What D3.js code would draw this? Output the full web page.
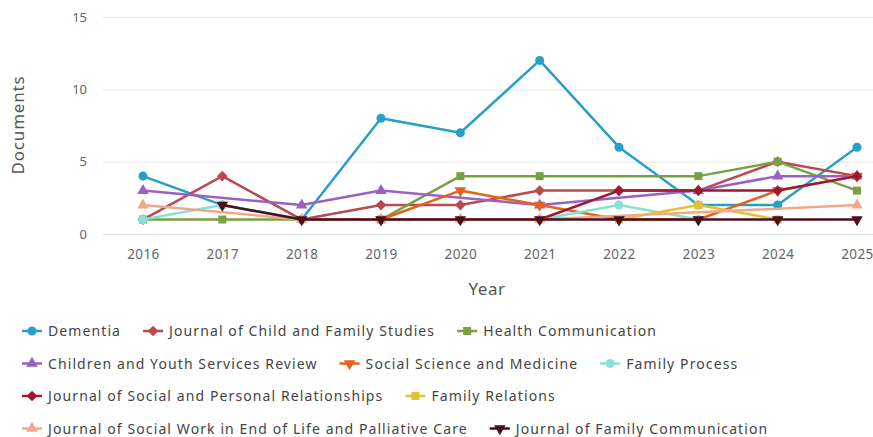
<!DOCTYPE html>
<html lang="en">
<head>
  <meta charset="UTF-8">
  <script src="https://d3js.org/d3.v7.min.js"></script>
  <style>
    body { margin: 0; background: #fff; }
    text { font-family: "Noto Sans", sans-serif; }
  </style>
  <title>Documents per year by source</title>
</head>
<body>
  <svg id="chart" width="873" height="437"></svg>
  <script>
    var years = [2016, 2017, 2018, 2019, 2020, 2021, 2022, 2023, 2024, 2025];
    var yTicks = [0, 5, 10, 15];

    var sources = ['Dementia', 'Journal of Child and Family Studies', 'Health Communication',
      'Children and Youth Services Review', 'Social Science and Medicine', 'Family Process',
      'Journal of Social and Personal Relationships', 'Family Relations',
      'Journal of Social Work in End of Life and Palliative Care', 'Journal of Family Communication'];

    // documents per year, null = no document that year
    var dementia = [4, 2, 1, 8, 7, 12, 6, 2, 2, 6];
    var childFamily = [1, 4, 1, 2, 2, 3, 3, 3, 5, 4];
    var healthComm = [1, 1, null, 1, 4, 4, null, 4, 5, 3];
    var childrenYouth = [3, null, 2, 3, null, 2, null, 3, 4, 4];
    var socialScience = [null, null, null, 1, 3, 2, 1, 1, 3, 4];
    var familyProcess = [1, 2, 1, null, null, 1, 2, 1, null, null];
    var socialPersonal = [null, null, 1, 1, 1, 1, 3, 3, 3, 4];
    var familyRelations = [null, null, null, null, null, null, 1, 2, 1, null];
    var endOfLife = [2, null, 1, 1, 1, 1, null, null, null, 2];
    var familyComm = [null, 2, 1, 1, 1, 1, 1, 1, 1, 1];

    var series = [dementia, childFamily, healthComm, childrenYouth, socialScience,
      familyProcess, socialPersonal, familyRelations, endOfLife, familyComm];
    var colors = ['#2a9fc6', '#b84a50', '#79a142', '#9c60c2', '#e2621f',
      '#86e2d3', '#a0182f', '#e5c22a', '#efa98a', '#4a0e1c'];
    var shapes = ['circle', 'diamond', 'square', 'triangle', 'triangle-down'];

    var svg = d3.select('#chart');
    var x = d3.scalePoint().domain(years).range([143, 857]);
    var y = d3.scaleLinear().domain([0, 15]).range([234, 17]);

    // grid + y labels
    var ga = svg.append('g').attr('transform', 'translate(103,0)')
      .call(d3.axisLeft(y).tickValues(yTicks).tickSize(-780).tickPadding(16));
    ga.select('.domain').remove();
    ga.selectAll('line').attr('stroke', '#e6e6e6');
    ga.selectAll('text').attr('fill', '#666').style('font-size', '13px');

    var gx = svg.append('g').attr('transform', 'translate(0,234)')
      .call(d3.axisBottom(x).tickSize(0).tickPadding(15));
    gx.select('.domain').remove();
    gx.selectAll('text').attr('fill', '#666').style('font-size', '13.5px')
      .style('letter-spacing', '0.4px');
    svg.append('line').attr('x1', 103).attr('x2', 873)
      .attr('y1', y(0) + 0.5).attr('y2', y(0) + 0.5).attr('stroke', '#dfe3ea');

    svg.append('text').attr('transform', 'translate(24,125) rotate(-90)')
      .attr('text-anchor', 'middle').attr('fill', '#555').style('font-size', '17px')
      .style('letter-spacing', '0.8px').text('Documents');
    svg.append('text').attr('x', 487).attr('y', 295)
      .attr('text-anchor', 'middle').attr('fill', '#555').style('font-size', '17px')
      .style('letter-spacing', '0.5px').text('Year');

    function symbolPath(i, size) {
      var s = shapes[i % shapes.length];
      if (s === 'circle') return d3.symbol(d3.symbolCircle, size)();
      if (s === 'diamond') return d3.symbol(d3.symbolSquare, size * 0.9)();
      if (s === 'square') return d3.symbol(d3.symbolSquare, size)();
      return d3.symbol(d3.symbolTriangle, size * 0.9)();
    }
    function symbolRotate(i) {
      var s = shapes[i % shapes.length];
      if (s === 'diamond') return ' rotate(45)';
      if (s === 'triangle-down') return ' rotate(180)';
      return '';
    }

    var line = d3.line().x(d => x(d.year)).y(d => y(d.v));
    series.forEach(function(vals, i) {
      var pts = years.map((yr, k) => ({ year: yr, v: vals[k] })).filter(d => d.v != null);
      var g = svg.append('g');
      g.append('path').datum(pts).attr('d', line)
        .attr('fill', 'none').attr('stroke', colors[i]).attr('stroke-width', 2.5)
        .attr('stroke-linejoin', 'round');
      g.selectAll('path.pt').data(pts).enter().append('path').attr('class', 'pt')
        .attr('d', symbolPath(i, 64))
        .attr('transform', d => 'translate(' + x(d.year) + ',' + y(d.v) + ')' + symbolRotate(i))
        .attr('fill', colors[i]);
    });

    // legend, flowing like the original
    var lx = 22, ly = 331, maxX = 860;
    sources.forEach(function(name, i) {
      var item = svg.append('g');
      var t = item.append('text').attr('x', 26).attr('y', 5)
        .attr('fill', '#444').style('font-size', '14px').style('letter-spacing', '1.1px')
        .text(name);
      var w = 26 + t.node().getComputedTextLength();
      if (lx + w > maxX) { lx = 22; ly += 32.5; }
      item.attr('transform', 'translate(' + lx + ',' + ly + ')');
      item.append('line').attr('x1', 0).attr('x2', 20).attr('y1', 0).attr('y2', 0)
        .attr('stroke', colors[i]).attr('stroke-width', 2.5);
      item.append('path').attr('d', symbolPath(i, 64))
        .attr('transform', 'translate(10,0)' + symbolRotate(i)).attr('fill', colors[i]);
      lx += w + 22;
    });
  </script>
</body>
</html>
